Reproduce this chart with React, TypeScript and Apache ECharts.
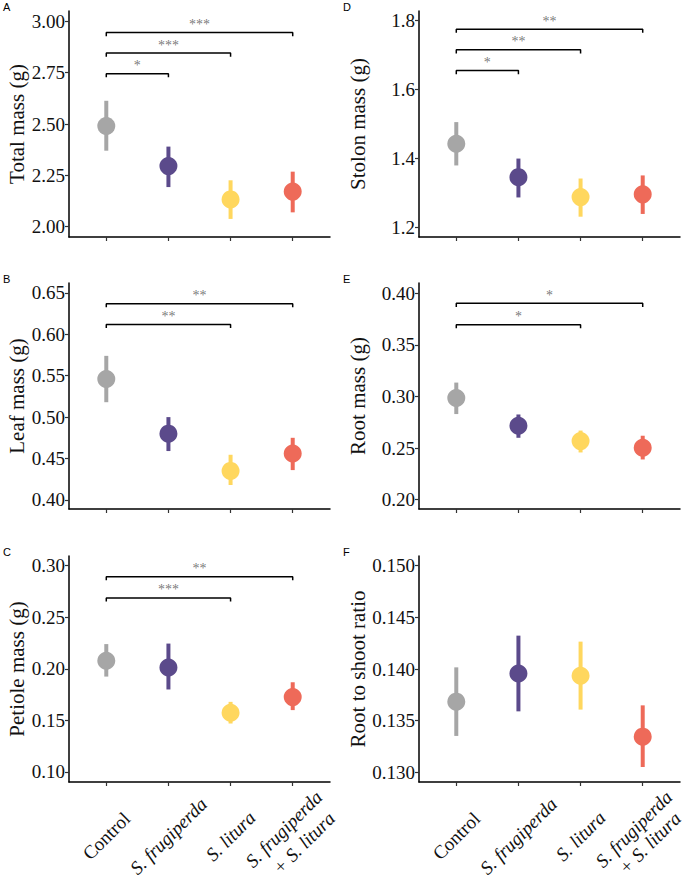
import { useEffect, useRef } from 'react';
import * as echarts from 'echarts';

// groups on the x axis (positions 1..4)
const categories = ['Control', 'S. frugiperda', 'S. litura', 'S. frugiperda\n+ S. litura'];
const groupColors = ['#A6A6A6', '#5B4A8B', '#FFD75E', '#EE6A59'];

// A - total mass
const totalMean = [2.49, 2.295, 2.133, 2.171];
const totalLow = [2.37, 2.193, 2.038, 2.07];
const totalHigh = [2.613, 2.39, 2.226, 2.268];
const totalTicks = [2.0, 2.25, 2.5, 2.75, 3.0];
const totalBrackets: [number, number, number, string][] = [[1, 2, 2.745, '*'], [1, 3, 2.845, '***'], [1, 4, 2.945, '***']];

// B - leaf mass
const leafMean = [0.546, 0.48, 0.435, 0.456];
const leafLow = [0.518, 0.459, 0.418, 0.436];
const leafHigh = [0.574, 0.5, 0.4545, 0.475];
const leafTicks = [0.4, 0.45, 0.5, 0.55, 0.6, 0.65];
const leafBrackets: [number, number, number, string][] = [[1, 3, 0.612, '**'], [1, 4, 0.637, '**']];

// C - petiole mass
const petioleMean = [0.2078, 0.2013, 0.1575, 0.1726];
const petioleLow = [0.1925, 0.18, 0.147, 0.16];
const petioleHigh = [0.224, 0.2245, 0.168, 0.187];
const petioleTicks = [0.1, 0.15, 0.2, 0.25, 0.3];
const petioleBrackets: [number, number, number, string][] = [[1, 3, 0.2688, '***'], [1, 4, 0.2893, '**']];

// D - stolon mass
const stolonMean = [1.442, 1.345, 1.287, 1.295];
const stolonLow = [1.379, 1.286, 1.23, 1.238];
const stolonHigh = [1.505, 1.399, 1.341, 1.35];
const stolonTicks = [1.2, 1.4, 1.6, 1.8];
const stolonBrackets: [number, number, number, string][] = [[1, 2, 1.655, '*'], [1, 3, 1.715, '**'], [1, 4, 1.775, '**']];

// E - root mass
const rootMean = [0.2985, 0.2717, 0.2568, 0.2503];
const rootLow = [0.283, 0.26, 0.2458, 0.239];
const rootHigh = [0.3135, 0.2826, 0.267, 0.262];
const rootTicks = [0.2, 0.25, 0.3, 0.35, 0.4];
const rootBrackets: [number, number, number, string][] = [[1, 3, 0.3696, '*'], [1, 4, 0.3903, '*']];

// F - root to shoot ratio
const ratioMean = [0.13684, 0.13957, 0.13935, 0.13345];
const ratioLow = [0.13352, 0.1359, 0.13607, 0.13051];
const ratioHigh = [0.14016, 0.14323, 0.14265, 0.13648];
const ratioTicks = [0.13, 0.135, 0.14, 0.145, 0.15];
const ratioBrackets: [number, number, number, string][] = [];

const serif = "'Liberation Serif', 'Times New Roman', serif";

interface Panel {
    letter: string;
    title: string;
    mean: number[];
    low: number[];
    high: number[];
    ticks: number[];
    range: [number, number];
    digits: number;
    brackets: [number, number, number, string][];
    left: number;
    top: number;
    nameGap: number;
    showLabels: boolean;
}

const panels: Panel[] = [
    { letter: 'A', title: 'Total mass (g)', mean: totalMean, low: totalLow, high: totalHigh, ticks: totalTicks, range: [1.95, 3.05], digits: 2, brackets: totalBrackets, left: 69, top: 11, nameGap: 42, showLabels: false },
    { letter: 'B', title: 'Leaf mass (g)', mean: leafMean, low: leafLow, high: leafHigh, ticks: leafTicks, range: [0.389, 0.662], digits: 2, brackets: leafBrackets, left: 69, top: 283, nameGap: 42, showLabels: false },
    { letter: 'C', title: 'Petiole mass (g)', mean: petioleMean, low: petioleLow, high: petioleHigh, ticks: petioleTicks, range: [0.0903, 0.3094], digits: 2, brackets: petioleBrackets, left: 69, top: 556, nameGap: 42, showLabels: true },
    { letter: 'D', title: 'Stolon mass (g)', mean: stolonMean, low: stolonLow, high: stolonHigh, ticks: stolonTicks, range: [1.171, 1.828], digits: 1, brackets: stolonBrackets, left: 419, top: 11, nameGap: 51, showLabels: false },
    { letter: 'E', title: 'Root mass (g)', mean: rootMean, low: rootLow, high: rootHigh, ticks: rootTicks, range: [0.191, 0.41], digits: 2, brackets: rootBrackets, left: 419, top: 283, nameGap: 51, showLabels: false },
    { letter: 'F', title: 'Root to shoot ratio', mean: ratioMean, low: ratioLow, high: ratioHigh, ticks: ratioTicks, range: [0.12906, 0.15094], digits: 3, brackets: ratioBrackets, left: 419, top: 556, nameGap: 51, showLabels: true },
];

const PLOT_W = 261;
const PLOT_H = 226;
const X_MIN = 0.4;
const X_MAX = 4.6;
const PX = (X_MAX - X_MIN) / PLOT_W; // one pixel in x units

const labelRich = {
    n: { fontFamily: serif, fontSize: 19, color: '#111', lineHeight: 20 },
    i: { fontFamily: serif, fontSize: 19, fontStyle: 'italic', color: '#111', lineHeight: 20 }
};

// label-only x axis sharing a grid; used for the rotated group names
function labelAxis(k: number, values: number[], texts: string[], margin: number) {
    return {
        type: 'value',
        gridIndex: k,
        min: X_MIN,
        max: X_MAX,
        position: 'bottom',
        splitLine: { show: false },
        axisLine: { show: false },
        axisTick: { show: false },
        axisLabel: {
            customValues: values,
            rotate: 45,
            align: 'center',
            verticalAlign: 'middle',
            margin,
            formatter: (v: number) => {
                const j = values.findIndex(u => Math.abs(u - v) < 1e-6);
                return texts[j < 0 ? 0 : j];
            },
            rich: labelRich
        }
    };
}

export default function App() {
    const chartRef = useRef<HTMLDivElement>(null);

    useEffect(() => {
        if (!chartRef.current) return;
        document.body.style.margin = '0';
        const chart = echarts.init(chartRef.current, null, { renderer: 'svg' });

        const grid: any[] = [];
        const xAxis: any[] = [];
        const extraX: any[] = [];
        const yAxis: any[] = [];
        const series: any[] = [];
        const graphic: any[] = [];

        panels.forEach((p, k) => {
            grid.push({ left: p.left, top: p.top, width: PLOT_W, height: PLOT_H, outerBoundsMode: 'none' });
            xAxis.push({
                type: 'value',
                gridIndex: k,
                min: X_MIN,
                max: X_MAX,
                splitLine: { show: false },
                axisLine: { onZero: false, lineStyle: { color: '#000', width: 1.5 } },
                axisTick: { show: true, customValues: [1, 2, 3, 4], length: 4, lineStyle: { color: '#333', width: 1.2 } },
                axisLabel: { show: false }
            });
            if (p.showLabels) {
                const line = categories[3].split('\n');
                // second line sits a little right of the first (kept inside the page on the right)
                const shift = p.left < 200 ? 11 : 7;
                extraX.push(labelAxis(k, [1], ['{n|' + categories[0] + '}'], 54));
                extraX.push(labelAxis(k, [2, 3], ['{i|' + categories[1] + '}', '{i|' + categories[2] + '}'], 54));
                extraX.push(labelAxis(k, [4 - 9 * PX], ['{i|' + line[0] + '}'], 47));
                extraX.push(labelAxis(k, [4 + shift * PX], ['{i|' + line[1] + '}'], 61));
            }
            yAxis.push({
                type: 'value',
                gridIndex: k,
                min: p.range[0],
                max: p.range[1],
                name: p.title,
                nameLocation: 'middle',
                nameRotate: 90,
                nameGap: p.nameGap,
                nameTextStyle: { fontFamily: serif, fontSize: 21, color: '#111' },
                splitLine: { show: false },
                axisLine: { show: true, onZero: false, lineStyle: { color: '#000', width: 1.5 } },
                axisTick: { show: true, customValues: p.ticks, length: 4, lineStyle: { color: '#333', width: 1.2 } },
                axisLabel: {
                    customValues: p.ticks,
                    margin: 4,
                    fontFamily: serif,
                    fontSize: 19,
                    color: '#111',
                    formatter: (v: number) => v.toFixed(p.digits)
                }
            });

            // error bars
            series.push({
                type: 'custom',
                xAxisIndex: k,
                yAxisIndex: k,
                data: p.mean.map((_, i) => [i + 1, p.low[i], p.high[i], i]),
                encode: { x: 0, y: [1, 2] },
                renderItem: (_params: any, api: any) => {
                    const a = api.coord([api.value(0), api.value(1)]);
                    const b = api.coord([api.value(0), api.value(2)]);
                    return {
                        type: 'line',
                        shape: { x1: a[0], y1: a[1], x2: b[0], y2: b[1] },
                        style: { stroke: groupColors[api.value(3)], lineWidth: 4 }
                    };
                }
            });
            // means
            series.push({
                type: 'scatter',
                xAxisIndex: k,
                yAxisIndex: k,
                symbolSize: 18,
                data: p.mean.map((m, i) => ({ value: [i + 1, m], itemStyle: { color: groupColors[i], opacity: 1 } }))
            });
            // significance brackets
            const tip = (p.range[1] - p.range[0]) * 0.016;
            p.brackets.forEach(([x1, x2, y]) => {
                series.push({
                    type: 'line',
                    xAxisIndex: k,
                    yAxisIndex: k,
                    symbol: 'none',
                    silent: true,
                    lineStyle: { color: '#000', width: 1.5 },
                    data: [[x1, y - tip], [x1, y], [x2, y], [x2, y - tip]]
                });
            });
            if (p.brackets.length) {
                series.push({
                    type: 'scatter',
                    xAxisIndex: k,
                    yAxisIndex: k,
                    symbolSize: 0,
                    silent: true,
                    itemStyle: { color: '#555' },
                    data: p.brackets.map(([x1, x2, y, s]) => ({ value: [(x1 + x2) / 2, y], name: s })),
                    label: {
                        show: true,
                        position: 'top',
                        distance: 1,
                        formatter: '{b}',
                        fontFamily: serif,
                        fontSize: 14,
                        color: '#555',
                        textBorderWidth: 0
                    }
                });
            }

            graphic.push({
                type: 'text',
                left: p.left < 200 ? 3 : 343,
                top: p.top - 10,
                style: { text: p.letter, fontFamily: "'Liberation Sans', Arial, sans-serif", fontSize: 11, fill: '#000' }
            });
        });

        chart.setOption({
            animation: false,
            backgroundColor: '#fff',
            grid,
            xAxis: xAxis.concat(extraX),
            yAxis,
            series,
            graphic
        });

        return () => {
            chart.dispose();
        };
    }, []);

    return <div ref={chartRef} style={{ width: 685, height: 880 }} />;
}
